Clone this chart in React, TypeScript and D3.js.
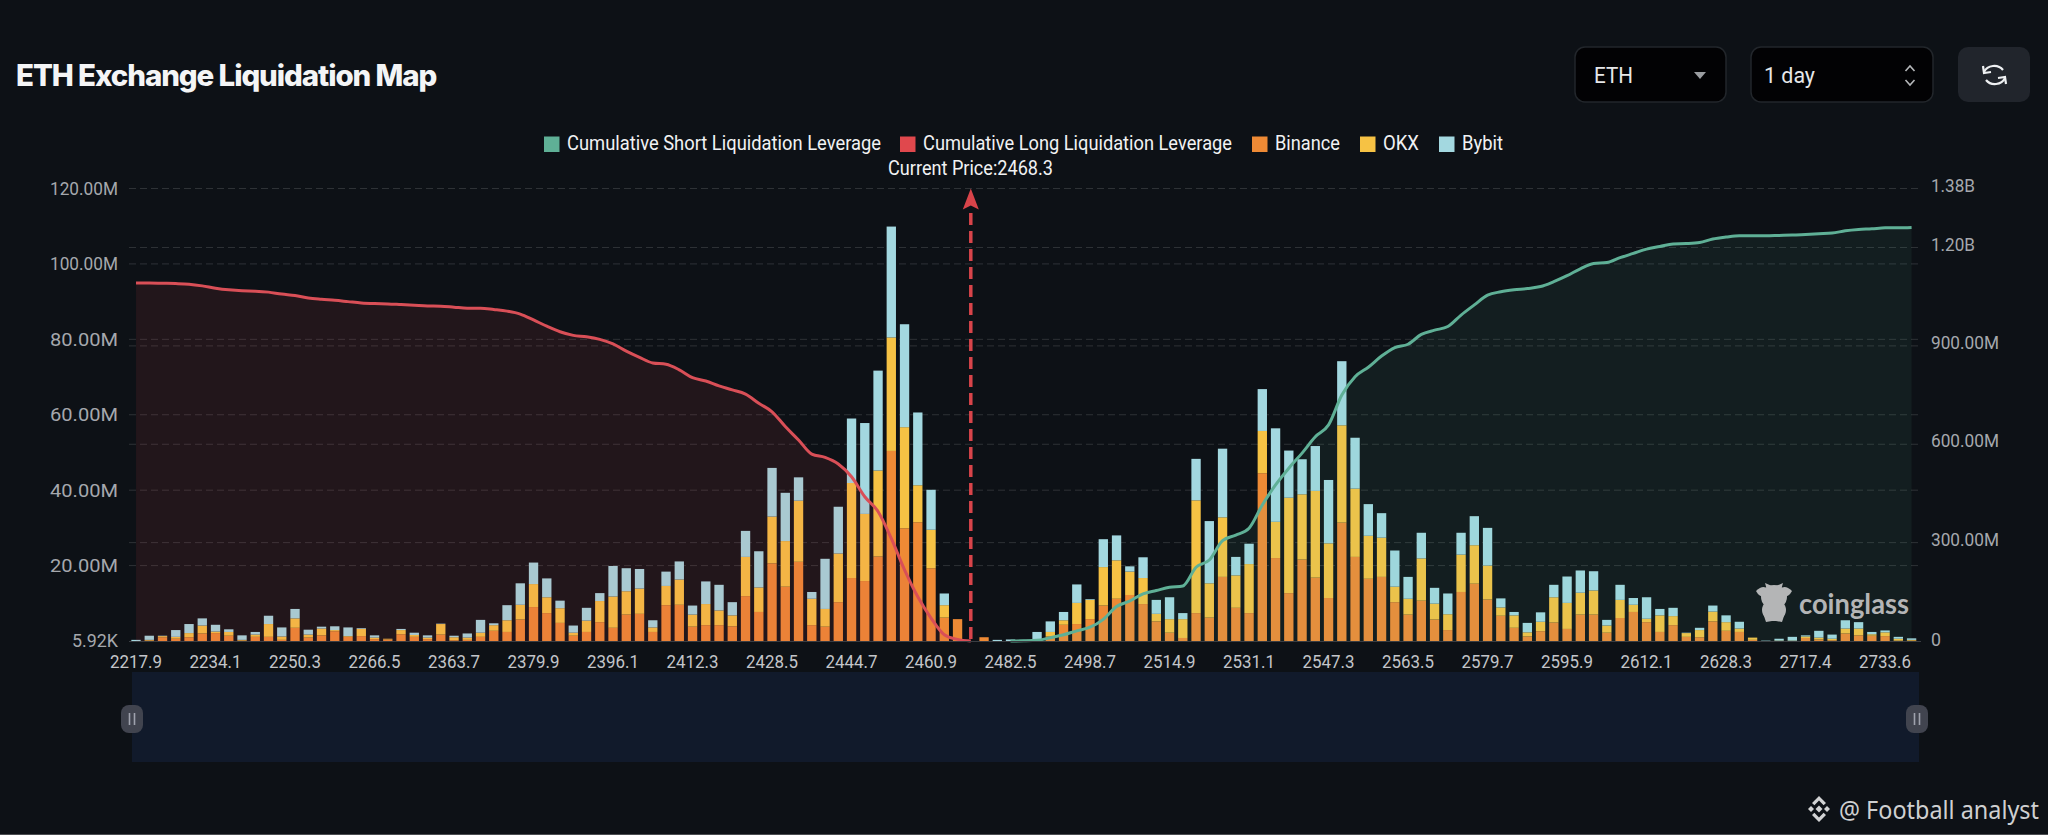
// Libraries
import * as d3 from 'd3';

const width = 2048;
const height = 835;

const bg = '#0d1116';
const binanceColor = '#ee8a35';
const okxColor = '#f6c244';
const bybitColor = '#a3d8e0';
const longColor = '#d94f57';
const shortColor = '#5fb096';
const axisFont = 'Roboto, sans-serif';

// Values in millions, one per price bucket
const binance = [0,0.1,1,0.6,1,2,2.1,1.4,0.1,1.1,1.1,0.3,3.5,0.9,1.5,2.6,1.1,1.3,0.5,0.4,1.8,1.1,0.5,1.7,0.2,0.3,1.1,2.7,
  2.4,5.7,9,7.4,4.8,1.4,2.4,5,3.5,7,7.2,2.4,9.5,9.6,3.8,4.2,4.2,3.9,11.9,7.7,20.6,14.4,21,4.2,3.8,10.3,16.7,15.9,22.4,50.4,29.9,31.5,19.3,6.2,5.8,0,1,0,
  0,0,0.2,1.2,4.3,4.5,5.8,9.4,11.2,12.2,9.8,5.2,2.2,0.8,7.4,6.2,17,8.8,7.4,44.5,22,12.7,21.6,16.8,11.4,31.4,22.3,16.5,17,10.3,7,10.7,5.7,2.9,13,15.2,11,
  6.7,3.5,1.2,2.6,4.9,3.2,7,7,2.2,6.1,7.7,5,2.4,4.2,1.1,1,5.2,2.7,2.4,0.3,0,0,0,0.8,0.4,0.2,2,1.5,1.4,1.3,0.1,0.1];
const okx = [0,0.2,0.3,0.5,1.1,2.1,0.4,1,0.2,0.6,3.4,0.9,2.5,0.8,1.8,0.3,0.2,1.9,0.4,0.2,1.1,0.5,0.4,2.8,0.8,0.6,1.1,1.5,
  3.1,3.9,6.1,4.2,3.9,0.8,3,5.6,8.3,6.2,6.7,1.2,5.1,6.7,3.2,5.6,3.9,2.9,10.4,6.5,12.4,12.1,16.2,7,4.7,12.9,25.2,17.8,22.8,30.1,26.8,9.8,10.2,3.3,0,0,0,0,
  0,0,0.2,1.2,1.2,5.6,5.1,10.2,10.2,6.2,6.9,2,3.6,5,29.9,9.1,15.8,8.6,13,11.2,9.6,25.3,17.3,23,14.5,25.8,18.1,11.4,10.4,4.1,4.2,11.2,4.2,4.2,9.9,10.2,9,
  2.2,3.3,1.1,2.5,6.7,6.9,5.8,6.4,1.9,4.8,1.9,0.9,4.4,2.4,1,1.9,2.6,2.3,0.9,0.6,0,0.1,0.1,0.4,0.5,0.4,1.3,1.8,0.4,1,0.5,0.2];
const bybit = [0.3,1.1,0.1,1.8,2.4,1.9,1.8,0.7,1.2,0.7,2.2,2.4,2.5,1.3,0.5,1,2.3,0.2,0.6,0,0.3,0.6,0.6,0.1,0.4,1.1,3.4,0.5,
  4,5.7,5.7,5,2,1.9,3.4,2.1,8.1,6.1,5.2,1.9,3.8,4.8,2.4,6,6.8,3.5,6.9,9.6,12.9,12.8,6.2,1.8,13.3,12.4,17.1,24.1,26.5,29.4,27.3,19.3,10.6,3.1,0,0,0,0.3,
  0.4,0.3,2,2.8,2.2,4.9,0.2,7.4,6.6,1.4,5.5,3.7,5.8,1.6,11,16.5,18.2,4.9,5.4,11.1,24.8,12.5,9.3,11.9,16.8,17,13.5,8.4,6.5,9.6,5.8,6.8,4.2,5.5,5.8,7.7,10,
  2.4,0.9,2.5,2.5,3.3,7,5.9,5.1,1.5,4,1.8,5.7,1.7,2.2,0.1,0.6,1.6,1.8,1.8,0,0.1,0.5,1,0.3,1.8,1.1,2.2,1.7,0.6,0.5,0.5,0.4];

// Cumulative values in millions
const longCumulative = [1092,1092,1091,1090,1088,1083,1076,1071,1068,1067,1064,1058,1054,1046,1042,1039,1035,1031,1029,1028,1026,1024,1022,1021,1018,1015,1015,1011,
  1006,997,979,960,943,932,928,920,906,884,865,848,844,827,803,793,778,766,753,725,699,654,613,570,560,540,501,440,395,313,217,135,70,19,5,0];
const shortCumulative = [0,0.5,2,10,19,31,42,66,105,122,144,154,164,168,225,247,306,323,344,415,476,527,573,623,659,750,806,835,869,895,905,935,948,959,
  994,1025,1055,1065,1071,1075,1081,1096,1114,1135,1151,1154,1169,1182,1195,1203,1211,1212,1215,1226,1232,1236,1236,1236,1237,1238,1240,1242,1244,1251,1255,1257,1260,1260,1261];
const shortStart = binance.length - shortCumulative.length;

const xTickLabels = ['2217.9','2234.1','2250.3','2266.5','2363.7','2379.9','2396.1','2412.3','2428.5','2444.7','2460.9',
  '2482.5','2498.7','2514.9','2531.1','2547.3','2563.5','2579.7','2595.9','2612.1','2628.3','2717.4','2733.6'];
const tickEvery = 6;
const currentPriceIndex = 63;

const leftTicks = [20, 40, 60, 80, 100, 120];
const leftMin = 0.00592;
const rightTicks = [300, 600, 900, 1200, 1380];
const rightTickLabels = ['300.00M', '600.00M', '900.00M', '1.20B', '1.38B'];

const legendItems = [
  { label: 'Cumulative Short Liquidation Leverage', color: shortColor, x: 544, w: 314 },
  { label: 'Cumulative Long Liquidation Leverage', color: '#e0484d', x: 900, w: 309 },
  { label: 'Binance', color: binanceColor, x: 1252, w: 65 },
  { label: 'OKX', color: okxColor, x: 1360, w: 36 },
  { label: 'Bybit', color: bybitColor, x: 1439, w: 41 },
];

const plotTop = 188.5;
const plotBottom = 641;

const x = d3.scaleBand<number>()
  .domain(d3.range(binance.length))
  .range([129.4, 1918.2])
  .paddingInner(0.295)
  .paddingOuter(0.147);
const xMid = (i: number) => (x(i) as number) + x.bandwidth() / 2;

const yLeft = d3.scaleLinear().domain([leftMin, 120]).range([plotBottom, plotTop]);
const yRight = d3.scaleLinear().domain([0, 1380]).range([plotBottom, plotTop]);

const rows = binance.map((d, i) => ({ i, binance: d, okx: okx[i], bybit: bybit[i] }));
const stacked = d3.stack<any>().keys(['binance', 'okx', 'bybit'])(rows);
const stackColors = [binanceColor, okxColor, bybitColor];

const longPoints = longCumulative.map((v, i) => [xMid(i), v] as [number, number]);
const shortPoints = shortCumulative.map((v, i) => [xMid(i + shortStart), v] as [number, number]);

const lineGen = d3.line<[number, number]>()
  .x(d => d[0])
  .y(d => yRight(d[1]))
  .curve(d3.curveMonotoneX);
const areaGen = d3.area<[number, number]>()
  .x(d => d[0])
  .y0(plotBottom)
  .y1(d => yRight(d[1]))
  .curve(d3.curveMonotoneX);

function AxisText(props: any) {
  // narrow DIN-like labels in the source, so the width is fitted
  const { w, children, ...rest } = props;
  return (
    <text fontFamily={axisFont} dominantBaseline="central" textLength={w} lengthAdjust="spacingAndGlyphs" {...rest}>
      {children}
    </text>
  );
}

function Gridlines() {
  return (
    <g stroke="#2e3236" strokeWidth={1} strokeDasharray="7 4">
      {leftTicks.map(t => <line key={'l' + t} x1={129} x2={1921} y1={yLeft(t)} y2={yLeft(t)} />)}
      {rightTicks.map(t => <line key={'r' + t} x1={129} x2={1921} y1={yRight(t)} y2={yRight(t)} />)}
    </g>
  );
}

function Axes() {
  return (
    <g>
      {leftTicks.map(t => (
        <AxisText key={t} x={118} y={yLeft(t) + 0.5} w={68} textAnchor="end" fontSize={18.5} fill="#a5a8ad">
          {t.toFixed(2) + 'M'}
        </AxisText>
      ))}
      <AxisText x={118} y={641} w={46} textAnchor="end" fontSize={18.5} fill="#a5a8ad">5.92K</AxisText>
      {rightTicks.map((t, i) => (
        <AxisText key={t} x={1931} y={yRight(t) - 3} w={i < 3 ? 68 : 44} fontSize={18.5} fill="#a5a8ad">
          {rightTickLabels[i]}
        </AxisText>
      ))}
      <AxisText x={1931} y={640} w={10} fontSize={18.5} fill="#a5a8ad">0</AxisText>
      {xTickLabels.map((label, i) => (
        <AxisText key={label} x={xMid(i * tickEvery)} y={661.5} w={52} textAnchor="middle" fontSize={18} fill="#c3c5c9">
          {label}
        </AxisText>
      ))}
    </g>
  );
}

function Legend() {
  return (
    <g>
      {legendItems.map(d => (
        <g key={d.label}>
          <rect x={d.x} y={136.5} width={15.5} height={15.5} fill={d.color} />
          <AxisText x={d.x + 23} y={143.5} w={d.w} fontSize={19.5} fill="#f1f2f3">{d.label}</AxisText>
        </g>
      ))}
      <AxisText x={888} y={168.5} w={165} fontSize={19.5} fill="#f1f2f3">Current Price:2468.3</AxisText>
    </g>
  );
}

function Header() {
  return (
    <g>
      <text x={16} y={75} dominantBaseline="central" fontFamily="Inter, sans-serif" fontWeight={800} fontSize={29.5}
        letterSpacing={-1.1} fill="#f4f5f6">ETH Exchange Liquidation Map</text>

      <rect x={1575} y={47} width={151} height={55} rx={10} fill="#020204" stroke="#22262b" strokeWidth={1.5} />
      <AxisText x={1594} y={75} w={39} fontSize={22} fill="#e6e7e9">ETH</AxisText>
      <path d="M1694,72 L1706,72 L1700,79 Z" fill="#9a9da1" />

      <rect x={1751} y={47} width={182} height={55} rx={10} fill="#020204" stroke="#22262b" strokeWidth={1.5} />
      <AxisText x={1764} y={75} w={51} fontSize={22} fill="#e6e7e9">1 day</AxisText>
      <path d="M1905.5,71 L1910,66 L1914.5,71 M1905.5,80 L1910,85 L1914.5,80" fill="none" stroke="#b5b7ba" strokeWidth={1.6} />

      <rect x={1958} y={47} width={72} height={55} rx={10} fill="#21252c" />
      <g fill="none" stroke="#eef0f2" strokeWidth={2.2}>
        <path d="M1984,72 A11,10 0 0 1 2003,70" />
        <path d="M2005,78 A11,10 0 0 1 1986,80" />
        <path d="M1983,66 L1984,73 L1991,72" />
        <path d="M2006,84 L2005,77 L1998,78" />
      </g>
    </g>
  );
}

function Bars() {
  return (
    <g>
      {stacked.map((series, s) => (
        <g key={series.key} fill={stackColors[s]}>
          {series.map((d: any) => {
            const h = yLeft(d[0] + leftMin) - yLeft(d[1] + leftMin);
            if (h <= 0) return null;
            return <rect key={d.data.i} x={x(d.data.i)} y={yLeft(d[1] + leftMin)} width={x.bandwidth()} height={h} />;
          })}
        </g>
      ))}
    </g>
  );
}

function Cumulative() {
  return (
    <g>
      <path d={areaGen(longPoints) as string} fill="#e2474c" fillOpacity={0.1} />
      <path d={areaGen(shortPoints) as string} fill="#5fd0b0" fillOpacity={0.07} />
      <path d={lineGen(longPoints) as string} fill="none" stroke={longColor} strokeWidth={3} />
      <path d={lineGen(shortPoints) as string} fill="none" stroke={shortColor} strokeWidth={3} />
    </g>
  );
}

function CurrentPrice() {
  const cx = xMid(currentPriceIndex);
  return (
    <g fill="#d8444a">
      <line x1={cx} x2={cx} y1={plotBottom - 2} y2={208} stroke="#d8444a" strokeWidth={3.5} strokeDasharray="12 6" />
      <path d={`M${cx},${plotTop} L${cx + 8},${plotTop + 21} L${cx},${plotTop + 17} L${cx - 8},${plotTop + 21} Z`} />
    </g>
  );
}

function Slider() {
  return (
    <g>
      <rect x={132} y={672} width={1787} height={90} fill="#111a2b" />
      {[132, 1917].map(hx => (
        <g key={hx}>
          <rect x={hx - 11} y={705} width={22} height={28} rx={8} fill="#41444f" />
          <path d={`M${hx - 2.5},713 V725 M${hx + 2.5},713 V725`} stroke="#9fa2ad" strokeWidth={1.6} />
        </g>
      ))}
    </g>
  );
}

function Watermark() {
  return (
    <g>
      <g fill="#b4b5b6" transform="translate(1774,603)">
        <ellipse cx={0} cy={-6} rx={13} ry={12} />
        <path d="M-18,-12 Q-11,-19 -6,-14 L-9,-6 Q-15,-6 -18,-12 Z" />
        <path d="M18,-12 Q11,-19 6,-14 L9,-6 Q15,-6 18,-12 Z" />
        <path d="M-9,-20 L-7,-13 L-2,-17 Z M9,-20 L7,-13 L2,-17 Z" />
        <ellipse cx={0} cy={7} rx={12} ry={11} />
        <path d="M-11,10 L-8,19 L-2,18 L2,18 L8,19 L11,10 Z" />
      </g>
      <text x={1799} y={603} dominantBaseline="central" fontFamily="Lato, sans-serif" fontWeight={700} fontSize={28}
        textLength={110} lengthAdjust="spacingAndGlyphs" fill="#b4b5b6">coinglass</text>
    </g>
  );
}

function Credit() {
  return (
    <g>
      <g fill="#d2d3d4" transform="translate(1819,809)">
        <path d="M0,-3.5 L3.5,0 L0,3.5 L-3.5,0 Z" />
        <path d="M-11,0 L-8,-3 L-5,0 L-8,3 Z" />
        <path d="M11,0 L8,-3 L5,0 L8,3 Z" />
        <path d="M0,-13 L7,-6 L4.6,-3.8 L0,-8.4 L-4.6,-3.8 L-7,-6 Z" />
        <path d="M0,13 L7,6 L4.6,3.8 L0,8.4 L-4.6,3.8 L-7,6 Z" />
      </g>
      <text x={1839} y={809} dominantBaseline="central" fontFamily="'Noto Sans', sans-serif" fontSize={25}
        textLength={200} lengthAdjust="spacingAndGlyphs" fill="#cfd0d1">@ Football analyst</text>
      <line x1={0} x2={width} y1={834.5} y2={834.5} stroke="#4a4c50" strokeWidth={1} />
    </g>
  );
}

export default function App() {
  return (
    <svg width={width} height={height} viewBox={`0 0 ${width} ${height}`}
      style={{ position: 'absolute', left: 0, top: 0, display: 'block', background: bg }}>
      <Header />
      <Legend />
      <Gridlines />
      <Bars />
      <Cumulative />
      <line x1={129} x2={1921} y1={plotBottom + 0.5} y2={plotBottom + 0.5} stroke="#3a3d42" strokeWidth={1} />
      <CurrentPrice />
      <Axes />
      <Slider />
      <Watermark />
      <Credit />
    </svg>
  );
}
